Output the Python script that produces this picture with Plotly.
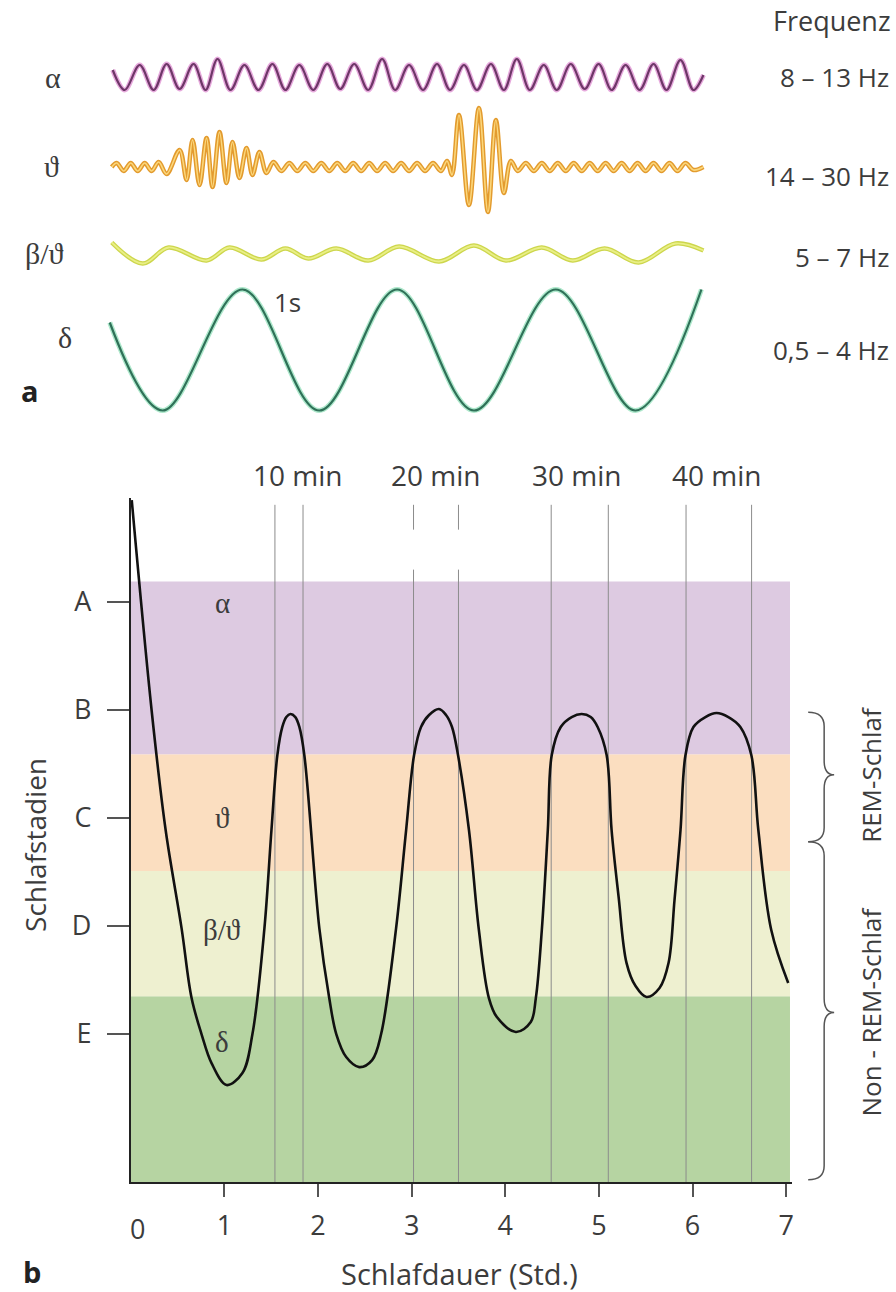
import plotly.graph_objects as go

W, H = 896, 1292

# ---------------- panel a : EEG wave forms (time in s, amplitude in a.u.) ----------------
alpha_t = [0.03, 0.15, 0.30, 0.44, 0.57, 0.70, 0.84, 0.96, 1.08, 1.21, 1.35, 1.49, 1.63, 1.76,
           1.90, 2.04, 2.18, 2.31, 2.45, 2.59, 2.73, 2.86, 3.00, 3.14, 3.28, 3.41, 3.55, 3.68,
           3.82, 3.95, 4.08, 4.21, 4.35, 4.48, 4.62, 4.76, 4.90, 5.03, 5.17, 5.31, 5.45, 5.58,
           5.72, 5.85, 5.95]
alpha_v = [7, -13, 12, -13, 13, -12, 13, -13, 18, -13, 12, -13, 13, -13,
           12, -13, 13, -12, 13, -13, 18, -13, 12, -13, 13, -13, 12, -13,
           13, -13, 18, -13, 12, -13, 13, -12, 13, -13, 12, -13, 13, -13,
           17, -13, 2]

theta_t = [0.02, 0.07, 0.14, 0.21, 0.28, 0.35, 0.42, 0.49, 0.57, 0.70, 0.77, 0.83, 0.90, 0.97,
           1.03, 1.10, 1.17, 1.23, 1.30, 1.37, 1.43, 1.50, 1.57, 1.64, 1.72, 1.80, 1.88, 1.96,
           2.04, 2.12, 2.20, 2.28, 2.36, 2.44, 2.52, 2.60, 2.68, 2.76, 2.84, 2.92, 3.00, 3.08,
           3.16, 3.24, 3.32, 3.38, 3.43, 3.50, 3.60, 3.70, 3.79, 3.87, 3.95, 4.02, 4.09, 4.17,
           4.25, 4.33, 4.41, 4.49, 4.57, 4.65, 4.73, 4.81, 4.89, 4.97, 5.05, 5.13, 5.21, 5.29,
           5.37, 5.45, 5.53, 5.61, 5.69, 5.77, 5.85, 5.95]
theta_v = [0, 4, -4, 4, -4, 4, -4, 5, -7, 17, -13, 27, -18, 29,
           -20, 35, -16, 25, -11, 19, -8, 15, -6, 5, -4, 4, -4, 4,
           -4, 4, -4, 4, -4, 4, -4, 4, -4, 4, -4, 4, -4, 4,
           -4, 4, -4, 6, -8, 52, -38, 59, -45, 47, -26, 6, -4, 4,
           -4, 4, -4, 4, -4, 4, -4, 4, -4, 4, -4, 4, -4, 4,
           -4, 4, -4, 4, -4, 4, -3, 0]

beta_t = [0.02, 0.33, 0.59, 0.97, 1.20, 1.52, 1.76, 1.99, 2.27, 2.59, 2.90, 3.30, 3.65, 3.97,
          4.33, 4.64, 4.96, 5.30, 5.67, 5.95]
beta_v = [11, -10, 6, -7, 6, -6, 5, -5, 5, -7, 7, -8, 8, -7,
          6, -7, 5, -9, 10, 3]

delta_t = [0.00, 0.53, 1.33, 2.10, 2.88, 3.65, 4.47, 5.27, 5.93]
delta_v = [27, -61, 60, -61, 60, -61, 60, -61, 60]

wave_names = ["α", "ϑ", "β/ϑ", "δ"]
wave_freq = ["8 – 13 Hz", "14 – 30 Hz", "5 – 7 Hz", "0,5 – 4 Hz"]

# ---------------- panel b : sleep profile ----------------
stage_vals = [1, 2, 3, 4, 5]
stage_text = ["E", "D", "C", "B", "A"]
hour_ticks = [1, 2, 3, 4, 5, 6, 7]

sleep_t = [0.011, 0.224, 0.373, 0.543, 0.650, 0.756, 0.863, 1.023, 1.193, 1.300, 1.428, 1.503,
           1.566, 1.619, 1.662, 1.705, 1.758, 1.801, 1.854,
           2.014, 2.120, 2.195, 2.301, 2.440, 2.578, 2.674, 2.834, 2.941,
           3.026, 3.100, 3.186, 3.292, 3.367, 3.431, 3.495,
           3.612, 3.718, 3.825, 3.910, 4.113, 4.272, 4.326, 4.390, 4.454,
           4.496, 4.592, 4.709, 4.816, 4.912, 4.986, 5.082,
           5.135, 5.210, 5.295, 5.391, 5.508, 5.647, 5.743, 5.807, 5.871,
           5.924, 6.009, 6.137, 6.255, 6.382, 6.510, 6.627,
           6.702, 6.840, 7.021]
sleep_stage = [5.944, 3.991, 2.889, 1.981, 1.333, 1.000, 0.731, 0.528, 0.639, 1.000, 1.981, 2.889,
               3.583, 3.843, 3.935, 3.963, 3.935, 3.843, 3.583,
               1.981, 1.333, 1.000, 0.787, 0.694, 0.759, 1.000, 1.981, 2.889,
               3.583, 3.843, 3.954, 4.009, 3.954, 3.843, 3.583,
               2.889, 1.963, 1.333, 1.157, 1.019, 1.111, 1.333, 1.963, 2.889,
               3.583, 3.843, 3.935, 3.963, 3.935, 3.843, 3.583,
               2.889, 2.269, 1.657, 1.444, 1.343, 1.426, 1.657, 2.241, 2.889,
               3.583, 3.843, 3.935, 3.972, 3.935, 3.843, 3.583,
               2.889, 1.963, 1.472]

rem_start = [1.54, 3.02, 4.49, 5.93]
rem_end = [1.84, 3.50, 5.10, 6.63]
min_labels = ["10 min", "20 min", "30 min", "40 min"]
min_label_x = [1.78, 3.25, 4.76, 6.26]

band_edges = [-0.37, 1.35, 2.51, 3.59, 5.19]
band_colors = ["#b6d4a2", "#eef0d0", "#fbdec0", "#ddcae1"]
band_labels = ["δ", "β/ϑ", "ϑ", "α"]
band_label_y = [0.93, 1.96, 3.00, 4.99]

rem_brace = [3.98, 2.78, 3.40]
nrem_brace = [2.78, -0.35, 1.20]

# ---------------- layout helpers ----------------
TXT = "#3c3c3c"
SANS = "Open Sans, Noto Sans, sans-serif"
SERIF = "Liberation Serif, DejaVu Serif, serif"


def py(p):
    return 1 - p / H


X0, PXH = 131, 93.857
x_range = [0, 7.06]
x_dom = [X0 / W, (X0 + x_range[1] * PXH) / W]
y_range = [-0.37, 5.963]
y_dom = [py(1182), py(498)]


def stage_to_paper(v):
    return y_dom[0] + (v - y_range[0]) / (y_range[1] - y_range[0]) * (y_dom[1] - y_dom[0])


fig = go.Figure()

wave_specs = [
    ("y2", alpha_t, alpha_v, "#e6a9dc", 5, "#6e3768", 2.2),
    ("y3", theta_t, theta_v, "#e39b2e", 4.5, "#fbd77c", 1.6),
    ("y4", beta_t, beta_v, "#cdd64c", 4.5, "#e9ef86", 1.8),
    ("y5", delta_t, delta_v, "#aee8cc", 5, "#2f7158", 2.2),
]
for ya, t, v, c1, w1, c2, w2 in wave_specs:
    fig.add_trace(go.Scatter(x=t, y=v, xaxis="x2", yaxis=ya, mode="lines",
                             line=dict(color=c1, width=w1, shape="spline", smoothing=1),
                             hoverinfo="skip", showlegend=False))
    fig.add_trace(go.Scatter(x=t, y=v, xaxis="x2", yaxis=ya, mode="lines",
                             line=dict(color=c2, width=w2, shape="spline", smoothing=1),
                             hoverinfo="skip", showlegend=False))

fig.add_trace(go.Scatter(x=sleep_t, y=sleep_stage, mode="lines",
                         line=dict(color="#111111", width=2.6, shape="spline", smoothing=1),
                         hoverinfo="skip", showlegend=False))

shapes = []
for i, col in enumerate(band_colors):
    shapes.append(dict(type="rect", xref="x", yref="y", x0=0, x1=7.04,
                       y0=band_edges[i], y1=band_edges[i + 1],
                       fillcolor=col, line=dict(width=0), layer="below"))
for k, xv in enumerate(rem_start + rem_end):
    if k in (1, 5):  # the two lines of the 20-min marker are interrupted
        segs = [(5.30, y_range[0]), (5.90, 5.67)]
    else:
        segs = [(5.90, y_range[0])]
    for a, b in segs:
        shapes.append(dict(type="line", xref="x", yref="y", x0=xv, x1=xv, y0=a, y1=b,
                           line=dict(color="#8c8c8c", width=1), layer="below"))


def brace(yt, yb, ym):
    xl, xm, xt = 810 / W, 826 / W, 836 / W
    r = 14 / H
    pt, pb, pm = stage_to_paper(yt), stage_to_paper(yb), stage_to_paper(ym)
    path = (f"M {xl},{pt} Q {xm},{pt} {xm},{pt - r} L {xm},{pm + r} "
            f"Q {xm},{pm} {xt},{pm} Q {xm},{pm} {xm},{pm - r} L {xm},{pb + r} "
            f"Q {xm},{pb} {xl},{pb}")
    return dict(type="path", xref="paper", yref="paper", path=path,
                line=dict(color="#555555", width=1.5))


shapes.append(brace(*rem_brace))
shapes.append(brace(*nrem_brace))

ann = []


def add_text(text, x, y, xref="paper", yref="paper", size=27, family=SANS, color=TXT,
             xanchor="center", angle=0):
    ann.append(dict(text=text, x=x, y=y, xref=xref, yref=yref, showarrow=False,
                    xanchor=xanchor, yanchor="middle", textangle=angle,
                    font=dict(family=family, size=size, color=color)))


wave_label_pos = [(53, 77), (52, 167), (45, 253), (65, 337)]
freq_label_py = [77, 176, 257, 350]
for name, (xp, yp) in zip(wave_names, wave_label_pos):
    add_text(name, xp / W, py(yp), family=SERIF, size=30)
for f, yp in zip(wave_freq, freq_label_py):
    add_text(f, 893 / W, py(yp), size=26, xanchor="right")
add_text("Frequenz", 895 / W, py(21), size=27, xanchor="right")
add_text("1s", 1.78, 47, xref="x2", yref="y5", size=26)
add_text("<b>a</b>", 30 / W, py(391), size=29, color="#222")
add_text("<b>b</b>", 32 / W, py(1271), size=29, color="#222")

for lab, yv in zip(band_labels, band_label_y):
    add_text(lab, 0.98, yv, xref="x", yref="y", family=SERIF, size=29)
for lab, xv in zip(min_labels, min_label_x):
    add_text(lab, xv, py(475), xref="x", size=28)
add_text("wach", -0.32, py(476), xref="x", size=28)
add_text("0", 0.07, py(1228), xref="x", size=27)
add_text("Schlafdauer (Std.)", 461 / W, py(1273), size=29)
add_text("Schlafstadien", 35 / W, py(845), size=28, angle=-90)
add_text("REM-Schlaf", 873 / W, stage_to_paper(rem_brace[2]), size=26, angle=-90)
add_text("Non - REM-Schlaf", 873 / W, stage_to_paper(nrem_brace[2]), size=26, angle=-90)


def wave_axis(center_px, half_px, amp):
    return dict(domain=[py(center_px + half_px), py(center_px - half_px)], range=[-amp, amp],
                anchor="x2", visible=False, fixedrange=True)


fig.update_layout(
    width=W, height=H, autosize=False,
    margin=dict(l=0, r=0, t=0, b=0),
    paper_bgcolor="white", plot_bgcolor="rgba(0,0,0,0)",
    font=dict(family=SANS, color=TXT),
    showlegend=False,
    xaxis=dict(domain=x_dom, range=x_range, anchor="y",
               tickmode="array", tickvals=hour_ticks, ticktext=[str(v) for v in hour_ticks],
               ticks="outside", ticklen=13, tickwidth=1.5, tickcolor="#555",
               ticklabelstandoff=6,
               tickfont=dict(family=SANS, size=27, color=TXT),
               showline=True, linecolor="#222", linewidth=1.8,
               showgrid=False, zeroline=False),
    yaxis=dict(domain=y_dom, range=y_range, anchor="x",
               tickmode="array", tickvals=stage_vals, ticktext=stage_text,
               ticks="outside", ticklen=22, tickwidth=1.5, tickcolor="#555",
               ticklabelstandoff=10,
               tickfont=dict(family=SANS, size=27, color=TXT),
               showline=True, linecolor="#222", linewidth=1.8,
               showgrid=False, zeroline=False),
    xaxis2=dict(domain=[0, 1], range=[-1.10, 7.86], anchor="y2", visible=False),
    yaxis2=wave_axis(77, 25, 25),
    yaxis3=wave_axis(167, 70, 70),
    yaxis4=wave_axis(253.5, 20, 20),
    yaxis5=wave_axis(349.5, 70, 70),
    shapes=shapes,
    annotations=ann,
)

fig.write_html("out.html",
               config={"displayModeBar": False},
               post_script="document.body.style.margin='0px';"
                           "document.body.style.overflow='hidden';")
